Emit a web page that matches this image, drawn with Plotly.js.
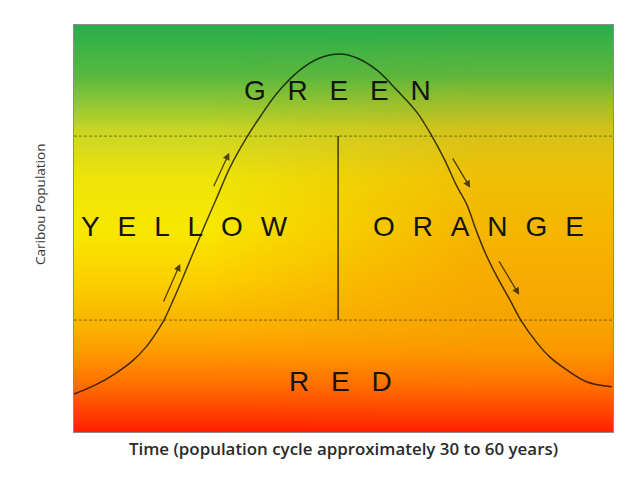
<!DOCTYPE html>
<html>
<head>
<meta charset="utf-8">
<script src="https://cdn.plot.ly/plotly-3.0.1.min.js"></script>
<style>html,body{margin:0;padding:0;background:#fff;}#chart{width:640px;height:480px;}</style>
</head>
<body>
<div id="chart"></div>
<script>
// Bell-shaped population cycle (time 0-100, population 0-100)
const timeX = [0, 3.9, 7.6, 10.8, 13.5, 15.6, 16.7, 18.4, 20.0, 22.1, 24.3, 26.7, 28.9, 32.1, 34.5, 37.7, 41.9, 45.6, 49.4, 52.5, 56.2, 59.9, 63.6, 66.4, 68.8, 70.9, 72.9, 74.6, 76.3, 78.5, 80.9, 82.9, 85.9, 88.3, 91.5, 95.2, 99.8];
const population = [9.3, 11.5, 14.3, 17.4, 21.1, 25.1, 27.5, 32.4, 37.3, 44.0, 50.9, 58.2, 64.9, 72.5, 77.4, 83.3, 88.9, 91.9, 92.9, 91.9, 88.9, 84.0, 78.6, 72.7, 66.8, 60.7, 55.8, 49.6, 44.0, 38.1, 32.4, 27.5, 21.9, 18.4, 15.2, 12.3, 11.1];

// Zone thresholds
const lowerThreshold = 27.5;
const upperThreshold = 72.7;
const peakSplitTime = 49.0;

// Zone labels
const zoneNames = ['GREEN', 'YELLOW', 'ORANGE', 'RED'];
const zoneTime = [48.9, 20.5, 75.0, 49.5];
const zoneLevel = [84.0, 50.4, 50.6, 12.3];

// Direction arrows (tail -> head)
const arrowTailX = [16.5, 25.8, 70.1, 78.7];
const arrowTailY = [31.7, 60.0, 67.6, 42.3];
const arrowHeadX = [19.7, 28.8, 73.5, 82.6];
const arrowHeadY = [41.3, 68.6, 60.0, 33.7];

// Background: vertical colour field (0 = green ... 100 = red)
const bgX = [0, 100];
const bgY = [0, 12.5, 25, 37.5, 50, 62.5, 75, 87.5, 100];
const bgLevel = [100, 86, 72, 60, 50, 48, 40, 15, 0];
// Background: orange tint towards the right (0 = none ... 1 = full)
const tintX = [0, 25, 50, 75, 100];
const tintZ = [
  [0, 0, 0, 0, 0],
  [0, 0, 0.05, 0.1, 0.1],
  [0, 0, 0.2, 0.4, 0.4],
  [0, 0, 0.3, 0.55, 0.55],
  [0, 0, 0.3, 0.55, 0.55],
  [0, 0, 0.2, 0.42, 0.42],
  [0, 0, 0.12, 0.25, 0.25],
  [0, 0, 0.03, 0.06, 0.06],
  [0, 0, 0, 0, 0]
];

const axisTitles = {x: 'Time (population cycle approximately 30 to 60 years)', y: 'Caribou Population'};

const colorscale = [
  [0.00, 'rgb(40,174,76)'],
  [0.16, 'rgb(92,186,62)'],
  [0.37, 'rgb(180,208,42)'],
  [0.43, 'rgb(214,218,30)'],
  [0.50, 'rgb(248,232,0)'],
  [0.60, 'rgb(252,208,0)'],
  [0.68, 'rgb(250,186,0)'],
  [0.72, 'rgb(252,176,0)'],
  [0.78, 'rgb(255,154,0)'],
  [0.87, 'rgb(255,110,0)'],
  [1.00, 'rgb(255,30,0)']
];
const tintScale = [[0, 'rgba(242,140,0,0)'], [1, 'rgba(242,140,0,1)']];

const lineCol = 'rgba(0,0,0,0.72)';

const traces = [
  {type: 'heatmap', x: bgX, y: bgY, z: bgLevel.map(v => [v, v]), zmin: 0, zmax: 100, zsmooth: 'best',
   colorscale: colorscale, showscale: false, hoverinfo: 'skip'},
  {type: 'heatmap', x: tintX, y: bgY, z: tintZ, zmin: 0, zmax: 1, zsmooth: 'best',
   colorscale: tintScale, showscale: false, hoverinfo: 'skip'},
  {type: 'scatter', mode: 'lines', x: [0, 100], y: [upperThreshold, upperThreshold],
   line: {color: 'rgba(60,50,0,0.6)', width: 1, dash: '3px,2px'}, hoverinfo: 'skip'},
  {type: 'scatter', mode: 'lines', x: [0, 100], y: [lowerThreshold, lowerThreshold],
   line: {color: 'rgba(60,40,0,0.6)', width: 1, dash: '3px,2px'}, hoverinfo: 'skip'},
  {type: 'scatter', mode: 'lines', x: [peakSplitTime, peakSplitTime], y: [lowerThreshold, upperThreshold],
   line: {color: lineCol, width: 1.5}, hoverinfo: 'skip'},
  {type: 'scatter', mode: 'lines', x: timeX, y: population, line: {color: lineCol, width: 1.5, shape: 'spline'}, hoverinfo: 'skip'}
];

const gapWide = '\u2002\u00A0';
const gapNarrow = '\u00A0\u00A0\u200A';
const annotations = [];
zoneNames.forEach((name, i) => {
  const gap = (name === 'YELLOW' || name === 'ORANGE') ? gapNarrow : gapWide;
  annotations.push({
    x: zoneTime[i], y: zoneLevel[i], xref: 'x', yref: 'y',
    text: name.split('').join(gap), showarrow: false,
    xanchor: 'center', yanchor: 'middle',
    font: {family: 'Liberation Sans, Arial, sans-serif', size: 28, color: '#141414'}
  });
});
for (let i = 0; i < arrowTailX.length; i++) {
  annotations.push({
    x: arrowHeadX[i], y: arrowHeadY[i], ax: arrowTailX[i], ay: arrowTailY[i],
    xref: 'x', yref: 'y', axref: 'x', ayref: 'y', text: '', showarrow: true,
    arrowhead: 2, arrowsize: 1.1, arrowwidth: 1.3, arrowcolor: 'rgba(40,30,0,0.8)', standoff: 0
  });
}
// y-axis title, placed where the reference draws it
annotations.push({
  x: 40, y: 205, xref: 'paper', yref: 'paper', text: axisTitles.y, showarrow: false,
  textangle: -90, xanchor: 'center', yanchor: 'middle',
  font: {family: 'Open Sans, sans-serif', size: 13.5, color: '#333333'}
});

const layout = {
  width: 640, height: 480,
  margin: {l: 74, r: 27, t: 25, b: 48},
  paper_bgcolor: '#ffffff', plot_bgcolor: '#ffffff',
  showlegend: false,
  xaxis: {range: [0, 100], showgrid: false, zeroline: false, showticklabels: false, ticks: '',
          showline: true, mirror: true, linecolor: '#8c8c8c', linewidth: 1, fixedrange: true,
          title: {text: axisTitles.x, standoff: 11,
                  font: {family: 'Open Sans, sans-serif', size: 16.9, color: '#2a2a2a', weight: 600}}},
  yaxis: {range: [0, 100], showgrid: false, zeroline: false, showticklabels: false, ticks: '',
          showline: true, mirror: true, linecolor: '#8c8c8c', linewidth: 1, fixedrange: true},
  annotations: annotations
};
// convert the y-title position from pixels to paper fractions
const plotW = 640 - layout.margin.l - layout.margin.r;
const plotH = 480 - layout.margin.t - layout.margin.b;
const yt = annotations[annotations.length - 1];
yt.x = (yt.x - layout.margin.l) / plotW;
yt.y = (480 - layout.margin.b - yt.y) / plotH;

Plotly.newPlot('chart', traces, layout, {displayModeBar: false, staticPlot: true});
</script>
</body>
</html>
